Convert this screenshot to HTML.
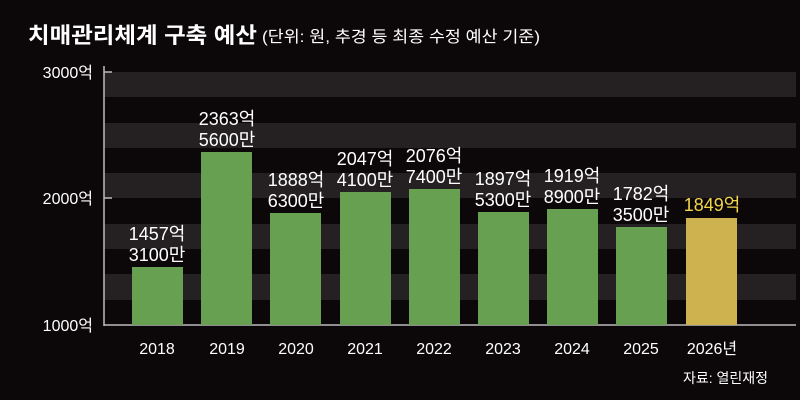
<!DOCTYPE html>
<html><head><meta charset="utf-8"><style>
body{margin:0;background:#0c0809;}
svg{display:block}
text{font-family:"Liberation Sans","Noto Sans CJK KR",sans-serif;fill:#fff}
</style></head><body>
<svg width="800" height="400" viewBox="0 0 800 400">
<rect width="800" height="400" fill="#0c0809"/>
<g fill="#252122">
<rect x="104" y="72" width="692" height="25"/>
<rect x="104" y="123" width="692" height="25"/>
<rect x="104" y="173" width="692" height="25"/>
<rect x="104" y="224" width="692" height="25"/>
<rect x="104" y="274" width="692" height="26"/>
</g>
<text x="28" y="43" font-size="22" font-weight="bold" textLength="229" lengthAdjust="spacingAndGlyphs">치매관리체계 구축 예산</text>
<text x="262" y="42" font-size="16" textLength="278" lengthAdjust="spacingAndGlyphs">(단위: 원, 추경 등 최종 수정 예산 기준)</text>
<line x1="104" y1="66" x2="104" y2="326" stroke="#bbb" stroke-width="1.5"/>
<line x1="104" y1="325" x2="796" y2="325" stroke="#bbb" stroke-width="1.5"/>
<line x1="104" y1="72" x2="112" y2="72" stroke="#bbb" stroke-width="1.5"/>
<line x1="104" y1="198" x2="112" y2="198" stroke="#bbb" stroke-width="1.5"/>
<g font-size="16" text-anchor="end" fill="#ddd">
<text x="93" y="78">3000억</text>
<text x="93" y="204">2000억</text>
<text x="93" y="331">1000억</text>
</g>
<g fill="#67a050">
<rect x="132" y="267" width="51" height="58"/>
<rect x="201" y="152" width="51" height="173"/>
<rect x="270" y="213" width="51" height="112"/>
<rect x="340" y="192" width="51" height="133"/>
<rect x="409" y="189" width="51" height="136"/>
<rect x="478" y="212" width="51" height="113"/>
<rect x="547" y="209" width="51" height="116"/>
<rect x="616" y="227" width="51" height="98"/>
</g>
<rect x="686" y="218" width="51" height="107" fill="#cdb24f"/>
<g font-size="18" text-anchor="middle">
<text x="157" y="240">1457억</text><text x="157" y="261">3100만</text>
<text x="227" y="125">2363억</text><text x="227" y="146">5600만</text>
<text x="296" y="186">1888억</text><text x="296" y="207">6300만</text>
<text x="365" y="165">2047억</text><text x="365" y="186">4100만</text>
<text x="434" y="162">2076억</text><text x="434" y="183">7400만</text>
<text x="503" y="185">1897억</text><text x="503" y="206">5300만</text>
<text x="572" y="182">1919억</text><text x="572" y="203">8900만</text>
<text x="641" y="200">1782억</text><text x="641" y="221">3500만</text>
<text x="712" y="211" style="fill:#f2d64a">1849억</text>
</g>
<g font-size="16" text-anchor="middle">
<text x="157" y="354">2018</text>
<text x="227" y="354">2019</text>
<text x="296" y="354">2020</text>
<text x="365" y="354">2021</text>
<text x="434" y="354">2022</text>
<text x="503" y="354">2023</text>
<text x="572" y="354">2024</text>
<text x="641" y="354">2025</text>
<text x="712" y="354">2026년</text>
</g>
<text x="768" y="383" font-size="14" text-anchor="end">자료: 열린재정</text>
</svg>
</body></html>
